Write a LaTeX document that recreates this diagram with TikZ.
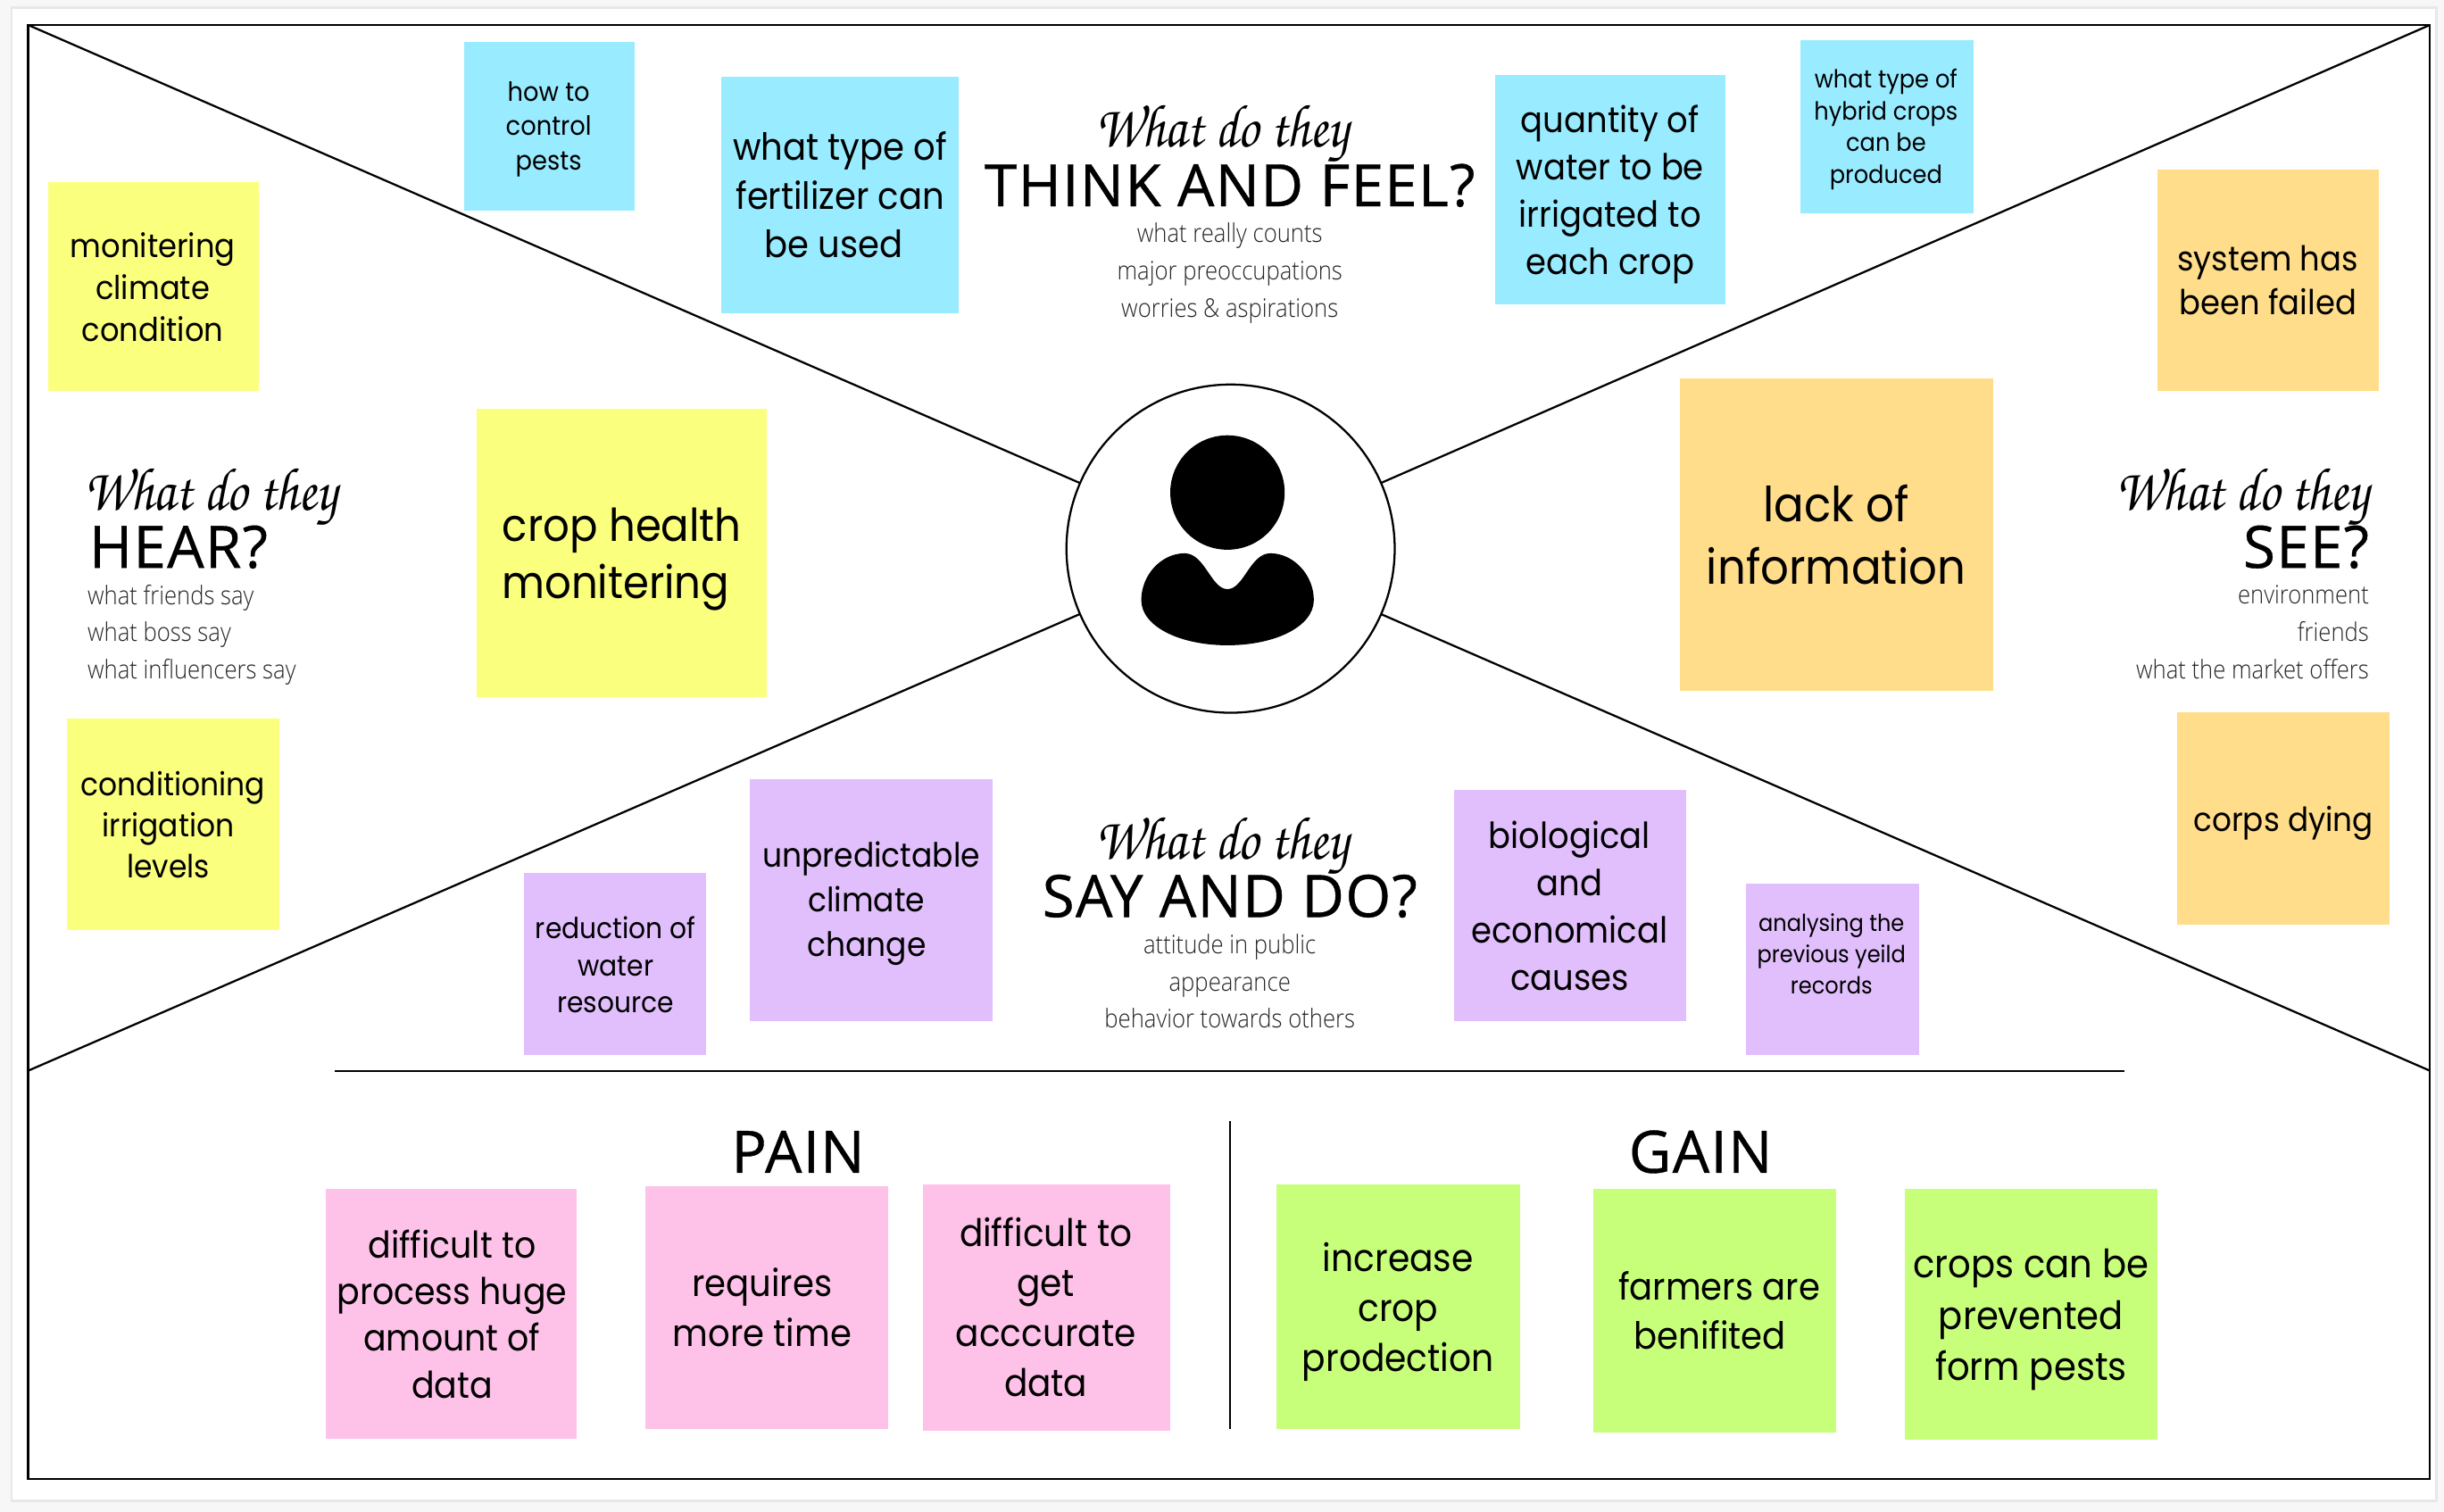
\documentclass[tikz,border=0pt]{standalone}
\usepackage{fontspec}
\setmainfont[FakeStretch=0.92]{Poppins}
\newfontfamily\ttlfam[LetterSpace=2,FakeBold=0.6]{Open Sans}
\newfontfamily\subfam[FakeStretch=0.89]{Open Sans Light}
\newfontfamily\handfam[FakeStretch=0.86]{TeX Gyre Chorus}
\newcommand\fz[2]{\fontsize{#1}{#2}\selectfont}
\definecolor{bluenote}{HTML}{99EBFF}
\definecolor{yellownote}{HTML}{FBFF7E}
\definecolor{orangenote}{HTML}{FFDD8A}
\definecolor{purplenote}{HTML}{E1BEFC}
\definecolor{pinknote}{HTML}{FEC2E9}
\definecolor{greennote}{HTML}{C7FF7B}
\tikzset{
  x=1pt,y=-1pt,
  frameline/.style={draw=black,line width=1.3pt},
  txt/.style={inner sep=0pt,align=center,text=black,execute at begin node=\strut,execute at end node=\strut},
  scr/.style={inner sep=0pt,font=\handfam\fz{39}{39}},
  ttl/.style={inner sep=0pt,font=\ttlfam\fz{37.5}{37.5}},
  subt/.style={inner sep=0pt,execute at begin node=\strut,execute at end node=\strut,font=\subfam\fz{16.5}{24},text=black!85},
}
\begin{document}
\begin{tikzpicture}
\useasboundingbox (0,0) rectangle (1568,970.1);
\fill[black!3] (0,0) rectangle (1568,970.1);
\draw[fill=white,draw=black!9,line width=1.5pt] (7.5,5) rectangle (1563,963);
% frame
\draw[frameline] (18,16) rectangle (1559,949);
\coordinate (ctl) at (18,16);
\coordinate (ctr) at (1559,16);
\coordinate (cbl) at (18,687);
\coordinate (cbr) at (1559,687);
\coordinate (hl) at (215,687);
\coordinate (hr) at (1363,687);
\coordinate (vt) at (789,719);
\coordinate (vb) at (789,917);
\node[circle,minimum size=210.5pt,inner sep=0pt] (person) at (789.5,352) {};
\draw[frameline] (ctl) -- (person);
\draw[frameline] (ctr) -- (person);
\draw[frameline] (cbl) -- (person);
\draw[frameline] (cbr) -- (person);
\draw[frameline] (person.center) circle (105.3);
\draw[frameline] (hl) -- (hr);
\draw[frameline] (vt) -- (vb);
% person icon
\fill (787.5,316) circle (36.7);
\fill (787.5,378) .. controls (777,378) and (773,355) .. (760,355)
  .. controls (745,355) and (732.2,369) .. (732.2,385)
  .. controls (732.2,402) and (757,414) .. (787.5,414)
  .. controls (818,414) and (842.9,402) .. (842.9,385)
  .. controls (842.9,369) and (830,355) .. (815,355)
  .. controls (802,355) and (798,378) .. (787.5,378) -- cycle;
% notes
\fill[bluenote] (298,27) rectangle (407,135);
\node[txt,font=\fz{17}{22}] (n1) at (352,84) {how to\\control\\pests};
\fill[bluenote] (463,49) rectangle (615,201);
\node[txt,font=\fz{24}{31}] (n2) at (539,129.5) {what type of\\fertilizer can\\be used\kern8pt};
\fill[yellownote] (31,117) rectangle (166,251);
\node[txt,font=\fz{21}{27}] (n3) at (98,188) {monitering\\climate\\condition};
\fill[yellownote] (306,262) rectangle (492,447);
\node[txt,font=\fz{29}{37}] (n4) at (399,360.5) {crop health\\monitering\kern8pt};
\fill[yellownote] (43,461) rectangle (179,597);
\node[txt,font=\fz{20.5}{26.5}] (n5) at (111,533) {conditioning\\irrigation\kern6pt\\levels\kern6pt};
\fill[bluenote] (959,48) rectangle (1107,195);
\node[txt,font=\fz{23}{30.3}] (n6) at (1033,126.5) {quantity of\\water to be\\irrigated to\\each crop};
\fill[bluenote] (1155,26) rectangle (1266,137);
\node[txt,font=\fz{16}{20.5}] (n7) at (1210,84) {what type of\\hybrid crops\\can be\\produced};
\fill[orangenote] (1384,109) rectangle (1526,251);
\node[txt,font=\fz{22}{28}] (n8) at (1455,184) {system has\\been failed};
\fill[orangenote] (1078,243) rectangle (1279,443);
\node[txt,font=\fz{31}{40}] (n9) at (1178,349) {lack of\\information};
\fill[orangenote] (1397,457) rectangle (1533,593);
\node[txt,font=\fz{21.3}{28}] (n10) at (1465,528) {corps dying};
\fill[purplenote] (336,560) rectangle (453,677);
\node[txt,font=\fz{18.5}{24}] (n11) at (395,622.5) {reduction of\\water\\resource};
\fill[purplenote] (481,500) rectangle (637,655);
\node[txt,font=\fz{21.5}{28.5}] (n12) at (559,581) {unpredictable\\climate\kern6pt\\change\kern6pt};
\fill[purplenote] (933,507) rectangle (1082,655);
\node[txt,font=\fz{23}{30.3}] (n13) at (1007,585.5) {biological\\and\\economical\\causes};
\fill[purplenote] (1120,567) rectangle (1231,677);
\node[txt,font=\fz{15}{20}] (n14) at (1175,615) {analysing the\\previous yeild\\records};
\fill[pinknote] (209,763) rectangle (370,923);
\node[txt,font=\fz{23.6}{30}] (n15) at (290,847.5) {difficult to\\process huge\\amount of\\data};
\fill[pinknote] (414,761) rectangle (570,917);
\node[txt,font=\fz{24}{32}] (n16) at (489,843.5) {requires\\more time};
\fill[pinknote] (592,760) rectangle (751,918);
\node[txt,font=\fz{24.3}{32}] (n17) at (671,843.5) {difficult to\\get\\acccurate\\data};
\fill[greennote] (819,760) rectangle (975,917);
\node[txt,font=\fz{24.4}{32}] (n18) at (897,843.5) {increase\\crop\\prodection};
\fill[greennote] (1022,763) rectangle (1178,919);
\node[txt,font=\fz{24}{32}] (n19) at (1103,845.5) {farmers are\\benifited\kern12pt};
\fill[greennote] (1222,763) rectangle (1384,924);
\node[txt,font=\fz{25}{33}] (n20) at (1303,848.5) {crops can be\\prevented\\form pests};
% titles
\node[scr] (s1) at (784,86) {What do they};
\node[ttl] (t1) at (789,119) {THINK AND FEEL?};
\node[subt,align=center] (b1) at (789,177) {what really counts\\major preoccupations\\worries \& aspirations};
\node[scr,anchor=west] (s2) at (54,319) {What do they};
\node[ttl,anchor=west] (t2) at (57,351) {HEAR?};
\node[subt,align=left,anchor=west] (b2) at (56,409) {what friends say\\what boss say\\what influencers say};
\node[scr,anchor=east] (s3) at (1520,319) {What do they};
\node[ttl,anchor=east] (t3) at (1520,351) {SEE?};
\node[subt,align=right,anchor=east] (b3) at (1520,409) {environment\\friends\\what the market offers};
\node[scr] (s4) at (784,543) {What do they};
\node[ttl] (t4) at (789,575) {SAY AND DO?};
\node[subt,align=center] (b4) at (789,633) {attitude in public\\appearance\\behavior towards others};
\node[ttl] (t5) at (512,739) {PAIN};
\node[ttl] (t6) at (1091,739) {GAIN};
\end{tikzpicture}
\end{document}
